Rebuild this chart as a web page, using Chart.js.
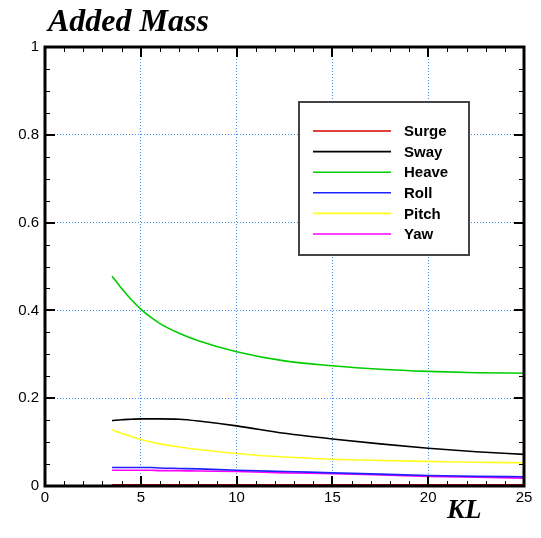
<!DOCTYPE html>
<html>
<head>
<meta charset="utf-8">
<script src="https://cdn.jsdelivr.net/npm/chart.js@4/dist/chart.umd.min.js"></script>
<style>
  html, body { margin: 0; padding: 0; background: #fff; }
  #wrap { width: 541px; height: 538px; position: relative; }
</style>
</head>
<body>
<div id="wrap"><canvas id="chart"></canvas></div>
<script>
// KL values where the curves were sampled
const klValues = [3.5, 4, 4.5, 5, 5.5, 6, 7, 8, 10, 12.5, 15, 17.5, 20, 22.5, 25];

// added mass per mode
const surge = [0.003, 0.003, 0.003, 0.003, 0.003, 0.003, 0.003, 0.003, 0.003, 0.003, 0.003, 0.003, 0.003, 0.003, 0.003];
const sway  = [0.149, 0.151, 0.152, 0.153, 0.153, 0.153, 0.152, 0.148, 0.137, 0.120, 0.107, 0.096, 0.086, 0.078, 0.072];
const heave = [0.478, 0.450, 0.425, 0.403, 0.385, 0.370, 0.348, 0.331, 0.306, 0.285, 0.274, 0.266, 0.261, 0.258, 0.257];
const roll  = [0.042, 0.042, 0.042, 0.042, 0.042, 0.041, 0.040, 0.039, 0.036, 0.033, 0.030, 0.027, 0.024, 0.022, 0.021];
const pitch = [0.128, 0.120, 0.113, 0.106, 0.101, 0.096, 0.089, 0.083, 0.074, 0.066, 0.061, 0.058, 0.056, 0.054, 0.053];
const yaw   = [0.036, 0.036, 0.036, 0.036, 0.036, 0.035, 0.035, 0.034, 0.033, 0.030, 0.028, 0.025, 0.022, 0.020, 0.018];

const seriesNames = ['Surge', 'Sway', 'Heave', 'Roll', 'Pitch', 'Yaw'];
const seriesColors = ['#d40000', '#000000', '#00cc00', '#2020ff', '#ffff20', '#ff00ff'];
const seriesValues = [surge, sway, heave, roll, pitch, yaw];

const xTicks = [0, 5, 10, 15, 20, 25];
const yTicks = [0, 0.2, 0.4, 0.6, 0.8, 1];

const datasets = seriesNames.map((name, i) => ({
    label: name,
    data: klValues.map((k, j) => ({ x: k, y: seriesValues[i][j] })),
    borderColor: seriesColors[i],
    backgroundColor: seriesColors[i],
    borderWidth: 1.6,
    pointRadius: 0,
    cubicInterpolationMode: 'monotone',
    fill: false
}));

// frame, inward ticks, title, axis label and legend box
const decorPlugin = {
    id: 'decor',
    afterDatasetsDraw(chart) {
        const ctx = chart.ctx;
        const a = chart.chartArea;
        const xs = chart.scales.x, ys = chart.scales.y;
        ctx.save();
        ctx.strokeStyle = '#000';
        // minor ticks
        ctx.lineWidth = 1;
        ctx.beginPath();
        for (let v = 1; v < 25; v++) {
            if (v % 5 === 0) continue;
            const px = Math.round(xs.getPixelForValue(v)) + 0.5;
            ctx.moveTo(px, a.bottom); ctx.lineTo(px, a.bottom - 5);
            ctx.moveTo(px, a.top); ctx.lineTo(px, a.top + 5);
        }
        for (let k = 1; k < 20; k++) {
            if (k % 4 === 0) continue;
            const py = Math.round(ys.getPixelForValue(k * 0.05)) + 0.5;
            ctx.moveTo(a.left, py); ctx.lineTo(a.left + 5, py);
            ctx.moveTo(a.right, py); ctx.lineTo(a.right - 5, py);
        }
        ctx.stroke();
        // major ticks
        ctx.lineWidth = 2;
        ctx.beginPath();
        xTicks.slice(1, -1).forEach(v => {
            const px = Math.round(xs.getPixelForValue(v));
            ctx.moveTo(px, a.bottom); ctx.lineTo(px, a.bottom - 10);
            ctx.moveTo(px, a.top); ctx.lineTo(px, a.top + 10);
        });
        yTicks.slice(1, -1).forEach(v => {
            const py = Math.round(ys.getPixelForValue(v));
            ctx.moveTo(a.left, py); ctx.lineTo(a.left + 10, py);
            ctx.moveTo(a.right, py); ctx.lineTo(a.right - 10, py);
        });
        ctx.stroke();
        // frame
        ctx.lineWidth = 3;
        ctx.strokeRect(a.left, a.top, a.right - a.left, a.bottom - a.top);

        // title and x-axis label
        ctx.fillStyle = '#000';
        ctx.textBaseline = 'alphabetic';
        ctx.textAlign = 'left';
        ctx.font = 'italic bold 32px "Liberation Serif", "Times New Roman", serif';
        ctx.fillText('Added Mass', 48, 31);
        ctx.font = 'italic bold 27px "Liberation Serif", "Times New Roman", serif';
        ctx.fillText('KL', 447, 518);

        // legend box
        const lx = 299, ly = 102, lw = 170, lh = 153;
        ctx.fillStyle = '#fff';
        ctx.fillRect(lx, ly, lw, lh);
        ctx.lineWidth = 2;
        ctx.strokeStyle = '#444';
        ctx.strokeRect(lx, ly, lw, lh);
        ctx.font = 'bold 15px "Liberation Sans", Arial, sans-serif';
        ctx.textBaseline = 'middle';
        chart.data.datasets.forEach((ds, i) => {
            const y = 131 + i * 20.6;
            ctx.strokeStyle = ds.borderColor;
            ctx.lineWidth = 1.6;
            ctx.beginPath();
            ctx.moveTo(313, y); ctx.lineTo(391, y);
            ctx.stroke();
            ctx.fillStyle = '#000';
            ctx.fillText(ds.label, 404, y + 1);
        });
        ctx.restore();
    }
};

const dottedGrid = (ctx, first, last) => {
    const v = ctx.tick ? ctx.tick.value : null;
    return (v === first || v === last) ? 'rgba(0,0,0,0)' : '#3f8fef';
};

new Chart(document.getElementById('chart'), {
    type: 'line',
    data: { datasets: datasets },
    options: {
        responsive: true,
        maintainAspectRatio: false,
        animation: false,
        layout: { padding: { top: 47, right: 17, left: 0, bottom: 0 } },
        plugins: {
            legend: { display: false },
            title: { display: false },
            tooltip: { enabled: false }
        },
        scales: {
            x: {
                type: 'linear',
                min: 0, max: 25,
                afterBuildTicks: s => { s.ticks = xTicks.map(v => ({ value: v })); },
                afterFit: s => { s.height = 52; },
                ticks: {
                    color: '#000',
                    padding: 3,
                    font: { family: '"Liberation Sans", Arial, sans-serif', size: 15 },
                    callback: v => String(v)
                },
                grid: {
                    drawTicks: false,
                    lineWidth: 1,
                    color: c => dottedGrid(c, 0, 25)
                },
                border: { display: false, dash: [1, 2] }
            },
            y: {
                type: 'linear',
                min: 0, max: 1,
                afterBuildTicks: s => { s.ticks = yTicks.map(v => ({ value: v })); },
                afterFit: s => { s.width = 45; },
                ticks: {
                    color: '#000',
                    padding: 6,
                    font: { family: '"Liberation Sans", Arial, sans-serif', size: 15 },
                    callback: v => String(Math.round(v * 10) / 10)
                },
                grid: {
                    drawTicks: false,
                    lineWidth: 1,
                    color: c => dottedGrid(c, 0, 1)
                },
                border: { display: false, dash: [1, 2] }
            }
        }
    },
    plugins: [decorPlugin]
});
</script>
</body>
</html>
